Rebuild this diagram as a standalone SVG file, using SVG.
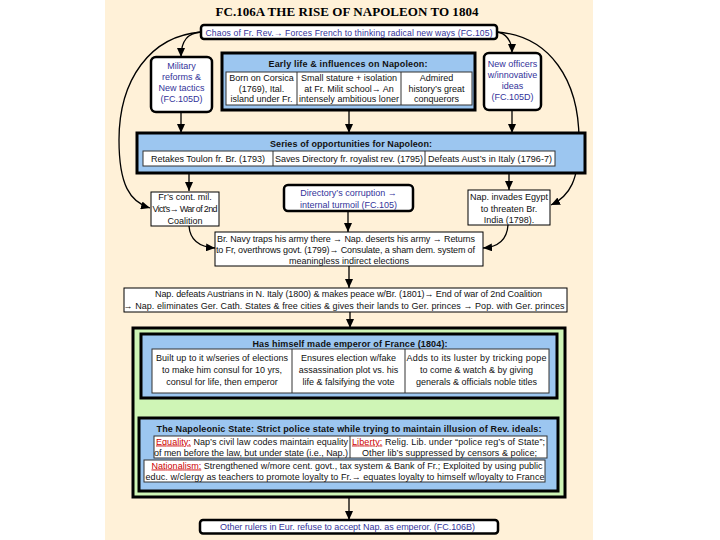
<svg xmlns="http://www.w3.org/2000/svg" width="720" height="540" viewBox="0 0 720 540">
<defs>
<marker id="ah" markerUnits="userSpaceOnUse" markerWidth="9" markerHeight="8" refX="9" refY="4" orient="auto">
<path d="M0,0 L9,4 L0,8 z" fill="#000"/>
</marker>
<style>
.t{font-family:"Liberation Sans",Arial,sans-serif;font-size:9px;fill:#111;text-anchor:middle}
.b{font-weight:bold}
.bl{fill:#33339a}
.rb{fill:#fff;stroke:#000;stroke-width:2.5}
.pb{fill:#fff;stroke:#000;stroke-width:1}
.blue{fill:#9cc6f0;stroke:#000;stroke-width:3}
.cell{fill:#fff;stroke:#333;stroke-width:1}
.red{fill:#cc0000;text-decoration:underline}
.c{fill:none;stroke:#000;stroke-width:1.3;marker-end:url(#ah)}
</style>
</defs>
<rect x="0" y="0" width="720" height="540" fill="#fff"/>
<rect x="105" y="0" width="488" height="540" fill="#fff1d8"/>
<text x="347" y="16" style="font-family:'Liberation Serif','Times New Roman',serif;font-size:13px;font-weight:bold;text-anchor:middle" textLength="263">FC.106A THE RISE OF NAPOLEON TO 1804</text>

<g id="connectors">
<path class="c" d="M201,32 C150,36 119,80 119,140 C119,185 130,202 150,208"/>
<path class="c" d="M201,32 C188,33 181,40 181,57"/>
<path class="c" d="M497,32 C550,36 579,80 579,140 C579,180 570,196 551,205"/>
<path class="c" d="M497,32 C505,33 512,40 512,53"/>
<path class="c" d="M181,112 V133"/>
<path class="c" d="M349,110 V133"/>
<path class="c" d="M512,110 V133"/>
<path class="c" d="M189,173 V191"/>
<path class="c" d="M509,173 V190"/>
<path class="c" d="M348,211 V232"/>
<path class="c" d="M189,226 C190,240 200,247 215,248"/>
<path class="c" d="M508,225 C507,240 498,247 483,248"/>
<path class="c" d="M349,266 V288"/>
<path class="c" d="M350,312 V328"/>
<path class="c" d="M350,398 V418"/>
<path class="c" d="M349,497 V520"/>
</g>

<g id="chaos">
<rect class="rb" x="201" y="25" width="296" height="14" rx="3"/>
<text class="t bl" x="349" y="35.5" style="font-size:8.6px" textLength="287">Chaos of Fr. Rev.→ Forces French to thinking radical new ways (FC.105)</text>
</g>

<g id="military">
<rect class="rb" x="151" y="57" width="61" height="55" rx="5"/>
<text class="t bl" x="181.5" y="69">Military</text>
<text class="t bl" x="181.5" y="80">reforms &amp;</text>
<text class="t bl" x="181.5" y="91">New tactics</text>
<text class="t bl" x="181.5" y="102">(FC.105D)</text>
</g>

<g id="early-life">
<rect class="blue" x="222" y="53" width="253" height="57"/>
<text class="t b" x="348" y="66.5" textLength="159">Early life &amp; influences on Napoleon:</text>
<rect class="cell" x="226" y="72" width="246" height="33"/>
<line x1="297" y1="72" x2="297" y2="105" stroke="#333"/>
<line x1="401" y1="72" x2="401" y2="105" stroke="#333"/>
<text class="t" x="261.5" y="80.5">Born on Corsica</text>
<text class="t" x="261.5" y="91.5">(1769), Ital.</text>
<text class="t" x="261.5" y="101.5">island under Fr.</text>
<text class="t" x="349" y="80.5">Small stature + isolation</text>
<text class="t" x="349" y="91.5">at Fr. Milit school→ An</text>
<text class="t" x="349" y="101.5" textLength="100">intensely ambitious loner</text>
<text class="t" x="436.5" y="80.5">Admired</text>
<text class="t" x="436.5" y="91.5">history’s great</text>
<text class="t" x="436.5" y="101.5">conquerors</text>
</g>

<g id="new-officers">
<rect class="rb" x="484" y="53" width="57" height="57" rx="5"/>
<text class="t bl" x="512.5" y="67">New officers</text>
<text class="t bl" x="512.5" y="78">w/innovative</text>
<text class="t bl" x="512.5" y="89">ideas</text>
<text class="t bl" x="512.5" y="100">(FC.105D)</text>
</g>

<g id="opportunities">
<rect class="blue" x="137" y="133" width="448" height="40"/>
<text class="t b" x="351" y="147.3" textLength="162">Series of opportunities for Napoleon:</text>
<rect class="cell" x="143" y="151" width="412" height="15"/>
<line x1="273" y1="151" x2="273" y2="166" stroke="#333"/>
<line x1="425" y1="151" x2="425" y2="166" stroke="#333"/>
<text class="t" x="208" y="161.5" textLength="114">Retakes Toulon fr. Br. (1793)</text>
<text class="t" x="349" y="161.5" textLength="148">Saves Directory fr. royalist rev. (1795)</text>
<text class="t" x="490" y="161.5" textLength="124">Defeats Aust’s in Italy (1796-7)</text>
</g>

<g id="fr-cont">
<rect class="pb" x="151" y="192" width="68" height="34"/>
<text class="t" x="185" y="200">Fr’s cont. mil.</text>
<text class="t" x="185" y="212" textLength="65">Vict’s→ War of 2nd</text>
<text class="t" x="185" y="224">Coalition</text>
</g>

<g id="directory">
<rect class="rb" x="284" y="185" width="129" height="26" rx="4"/>
<text class="t bl" x="348.5" y="195.5">Directory’s corruption →</text>
<text class="t bl" x="348.5" y="207.5">internal turmoil (FC.105)</text>
</g>

<g id="egypt">
<rect class="pb" x="468" y="190" width="82" height="35"/>
<text class="t" x="509" y="200">Nap. invades Egypt</text>
<text class="t" x="509" y="211.5">to threaten Br.</text>
<text class="t" x="509" y="223">India (1798).</text>
</g>

<g id="br-navy">
<rect class="pb" x="215" y="232" width="268" height="34"/>
<text class="t" x="346" y="241.5" textLength="258">Br. Navy traps his army there → Nap. deserts his army → Returns</text>
<text class="t" x="345.5" y="252.5" textLength="259">to Fr, overthrows govt. (1799)→ Consulate, a sham dem. system of</text>
<text class="t" x="349" y="263.5">meaningless indirect elections</text>
</g>

<g id="nap-defeats">
<rect class="pb" x="124" y="288" width="443" height="24"/>
<text class="t" x="348.5" y="297" textLength="387">Nap. defeats Austrians in N. Italy (1800) &amp; makes peace w/Br. (1801)→ End of war of 2nd Coalition</text>
<text class="t" x="344" y="308.5" textLength="441">→ Nap. eliminates Ger. Cath. States &amp; free cities &amp; gives their lands to Ger. princes → Pop. with Ger. princes</text>
</g>

<g id="empire">
<rect x="133" y="328" width="432" height="169" fill="#cff5b6" stroke="#000" stroke-width="3"/>
</g>

<g id="emperor">
<rect class="blue" x="141" y="334" width="416" height="64"/>
<text class="t b" x="350" y="346.5" textLength="195">Has himself made emperor of France (1804):</text>
<rect class="cell" x="152" y="349" width="397" height="44"/>
<line x1="292" y1="349" x2="292" y2="393" stroke="#333"/>
<line x1="405" y1="349" x2="405" y2="393" stroke="#333"/>
<text class="t" x="222" y="360.5" textLength="132">Built up to it w/series of elections</text>
<text class="t" x="222" y="372.5">to make him consul for 10 yrs,</text>
<text class="t" x="222" y="384.5">consul for life, then emperor</text>
<text class="t" x="348.5" y="360.5">Ensures election w/fake</text>
<text class="t" x="348.5" y="372.5">assassination plot  vs. his</text>
<text class="t" x="348.5" y="384.5">life &amp; falsifying the vote</text>
<text class="t" x="476.5" y="360.5" textLength="140">Adds to its luster  by tricking pope</text>
<text class="t" x="476.5" y="372.5">to come &amp; watch &amp; by giving</text>
<text class="t" x="476.5" y="384.5">generals &amp; officials  noble titles</text>
</g>

<g id="napoleonic-state">
<rect class="blue" x="139" y="418" width="419" height="73"/>
<text class="t b" x="349" y="432" textLength="385">The Napoleonic State: Strict police state while trying to maintain illusion of Rev. ideals:</text>
<rect class="cell" x="154" y="436" width="393" height="22"/>
<line x1="350" y1="436" x2="350" y2="458" stroke="#333"/>
<text class="t" x="252" y="444.5" textLength="192"><tspan class="red">Equality:</tspan> Nap’s civil law codes maintain equality</text>
<text class="t" x="251" y="456" textLength="194">of men before the law, but under state (i.e., Nap.)</text>
<text class="t" x="448.5" y="444.5" textLength="193"><tspan class="red">Liberty:</tspan> Relig. Lib. under “police reg’s of State”;</text>
<text class="t" x="449.5" y="456" textLength="175">Other lib’s suppressed by censors &amp; police;</text>
<rect class="cell" x="144" y="460" width="401" height="22"/>
<text class="t" x="347" y="468.5" textLength="391"><tspan class="red">Nationalism:</tspan> Strengthened w/more cent. govt., tax system &amp; Bank of Fr.; Exploited by using public</text>
<text class="t" x="345" y="480" textLength="399">educ. w/clergy as  teachers to promote loyalty to Fr.→ equates loyalty to himself w/loyalty to France</text>
</g>

<g id="other-rulers">
<rect class="rb" x="200" y="520" width="298" height="13.5" rx="3"/>
<text class="t bl" x="347.5" y="530" textLength="255">Other rulers in Eur. refuse to accept Nap. as emperor. (FC.106B)</text>
</g>
</svg>
